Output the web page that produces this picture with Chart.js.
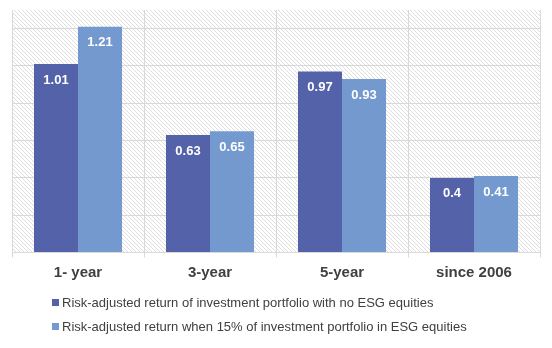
<!DOCTYPE html>
<html><head><meta charset="utf-8">
<script src="https://cdn.jsdelivr.net/npm/chart.js@4/dist/chart.umd.min.js"></script>
<style>
html,body{margin:0;padding:0;background:#fff;}
#wrap{position:relative;width:552px;height:348px;}
#legend{position:absolute;left:52px;top:293px;font:13px "Liberation Sans",Arial,sans-serif;color:#404040;}
#legend div{height:24px;line-height:20px;white-space:nowrap;}
#legend span.box{display:inline-block;width:7px;height:7px;margin-right:3px;vertical-align:1px;}
</style></head>
<body>
<div id="wrap"><canvas id="c" width="552" height="348"></canvas><div id="legend"></div></div>
<script>
const categories = ["1- year", "3-year", "5-year", "since 2006"];
const seriesNames = [
  "Risk-adjusted return of investment portfolio with no ESG equities",
  "Risk-adjusted return when 15% of investment portfolio in ESG equities"
];
const noEsg = [1.01, 0.63, 0.97, 0.4];
const withEsg = [1.21, 0.65, 0.93, 0.41];
const seriesColors = ["#5362A9", "#7399CE"];

function makePattern(){
  const p = document.createElement('canvas');
  p.width = 4; p.height = 4;
  const g = p.getContext('2d');
  g.fillStyle = '#ffffff'; g.fillRect(0,0,4,4);
  g.strokeStyle = '#dedede'; g.lineWidth = 1;
  g.beginPath();
  g.moveTo(-1,-1); g.lineTo(5,5);
  g.moveTo(-1,3); g.lineTo(1,5);
  g.moveTo(3,-1); g.lineTo(5,1);
  g.stroke();
  return g.createPattern(p,'repeat');
}

const bgPlugin = {
  id:'bg',
  beforeDraw(chart){
    const {ctx, chartArea:a} = chart;
    ctx.save();
    ctx.fillStyle = makePattern();
    ctx.fillRect(a.left, a.top, a.right-a.left, a.bottom-a.top);
    ctx.restore();
  }
};
const labelPlugin = {
  id:'vals',
  afterDatasetsDraw(chart){
    const ctx = chart.ctx;
    ctx.save();
    ctx.fillStyle = '#ffffff';
    ctx.font = 'bold 13px "Liberation Sans", Arial, sans-serif';
    ctx.textAlign = 'center'; ctx.textBaseline = 'middle';
    chart.data.datasets.forEach((ds,i)=>{
      chart.getDatasetMeta(i).data.forEach((bar,j)=>{
        ctx.fillText(String(ds.data[j]), bar.x, bar.y + 16);
      });
    });
    ctx.restore();
  }
};

const lg = document.getElementById('legend');
seriesNames.forEach((n,i)=>{
  const d = document.createElement('div');
  d.innerHTML = '<span class="box" style="background:'+seriesColors[i]+'"></span>' + n;
  lg.appendChild(d);
});

new Chart(document.getElementById('c'), {
  type:'bar',
  data:{
    labels: categories,
    datasets:[
      {label:seriesNames[0], data:noEsg, backgroundColor:seriesColors[0]},
      {label:seriesNames[1], data:withEsg, backgroundColor:seriesColors[1]}
    ]
  },
  options:{
    responsive:false, animation:false,
    layout:{padding:{left:12, right:12, top:10, bottom:60.5}},
    datasets:{bar:{categoryPercentage:0.667, barPercentage:1.0}},
    plugins:{legend:{display:false}, tooltip:{enabled:false}},
    scales:{
      x:{
        grid:{color:'#d9d9d9', lineWidth:1, tickLength:5, offset:true},
        border:{color:'#d9d9d9'},
        ticks:{color:'#404040', padding:6, font:{family:'"Liberation Sans", Arial, sans-serif', size:15, weight:'bold'}}
      },
      y:{
        min:0, max:1.3,
        ticks:{display:false, stepSize:0.2},
        grid:{drawTicks:false, color:(c)=> (c.tick && Math.abs(c.tick.value-1.3)<1e-6) ? 'rgba(0,0,0,0)' : '#d9d9d9'},
        border:{display:false}
      }
    }
  },
  plugins:[bgPlugin, labelPlugin]
});
</script>
</body></html>
